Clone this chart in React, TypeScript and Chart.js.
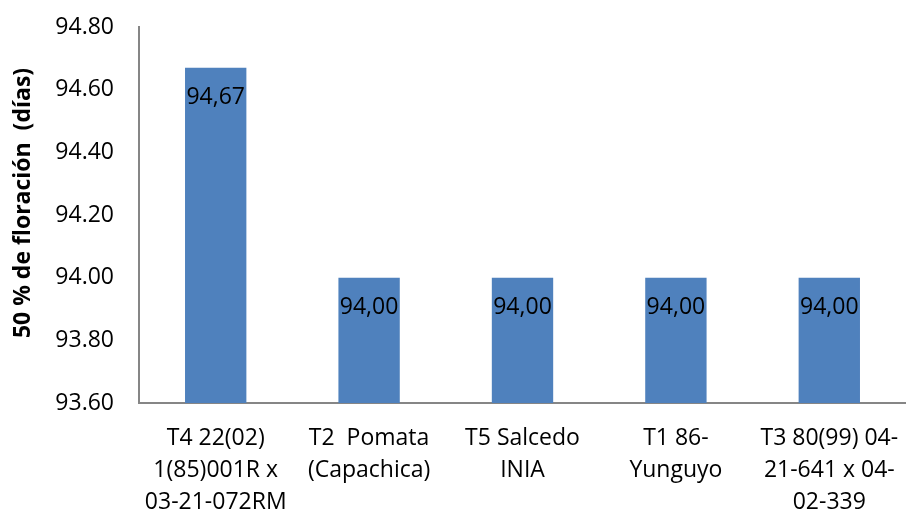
import React, { useEffect, useRef } from "react";
import { Chart, registerables } from "chart.js";

Chart.register(...registerables);

const categories: string[][] = [
  ["T4 22(02)", "1(85)001R x", "03-21-072RM"],
  ["T2  Pomata", "(Capachica)"],
  ["T5 Salcedo", "INIA"],
  ["T1 86-", "Yunguyo"],
  ["T3 80(99) 04-", "21-641 x 04-", "02-339"],
];
const values: number[] = [94.67, 94.0, 94.0, 94.0, 94.0];
const yTitle = "50 % de floración  (días)";
const yMin = 93.6;
const yMax = 94.8;
const yStep = 0.2;

const FONT = "'Open Sans', sans-serif";

const labelPlugin = {
  id: "barLabels",
  afterDatasetsDraw(chart: any) {
    const ctx = chart.ctx;
    const meta = chart.getDatasetMeta(0);
    ctx.save();
    ctx.font = `23px ${FONT}`;
    ctx.fillStyle = "#000000";
    ctx.textAlign = "center";
    ctx.textBaseline = "middle";
    meta.data.forEach((bar: any, i: number) => {
      const txt = values[i].toFixed(2).replace(".", ",");
      ctx.fillText(txt, bar.x, bar.y + 30);
    });
    ctx.restore();
  },
};

const titlePlugin = {
  id: "yTitle",
  afterDraw(chart: any) {
    const ctx = chart.ctx;
    ctx.save();
    ctx.translate(23, 203);
    ctx.rotate(-Math.PI / 2);
    ctx.font = `bold 23px ${FONT}`;
    ctx.fillStyle = "#000000";
    ctx.textAlign = "center";
    ctx.textBaseline = "middle";
    ctx.fillText(yTitle, 0, 0);
    ctx.restore();
  },
};

export default function App() {
  const ref = useRef<HTMLCanvasElement>(null);
  useEffect(() => {
    document.body.style.margin = "0";
    const chart = new Chart(ref.current!, {
      type: "bar",
      data: {
        labels: categories,
        datasets: [
          {
            data: values,
            backgroundColor: "#4F81BD",
            borderWidth: 0,
            categoryPercentage: 1,
            barPercentage: 0.4,
          },
        ],
      },
      options: {
        animation: false,
        responsive: false,
        maintainAspectRatio: false,
        layout: { padding: { top: 27, right: 0, left: 0, bottom: 0 } },
        plugins: { legend: { display: false }, tooltip: { enabled: false } },
        scales: {
          x: {
            grid: { display: false, drawTicks: false },
            border: { display: true, color: "#868686", width: 2 },
            ticks: {
              color: "#000000",
              font: { family: FONT, size: 23, lineHeight: "32px" as any },
              padding: 19,
              maxRotation: 0,
              autoSkip: false,
            },
            afterFit(scale: any) {
              scale.height = 110;
              scale.paddingLeft = 0;
              scale.paddingRight = 0;
            },
          },
          y: {
            min: yMin,
            max: yMax,
            grid: { display: false, drawTicks: false },
            border: { display: true, color: "#868686", width: 2 },
            ticks: {
              stepSize: yStep,
              color: "#000000",
              font: { family: FONT, size: 23 },
              padding: 25,
              callback: (v: any) => Number(v).toFixed(2),
            },
            title: { display: false, text: yTitle },
            afterFit(scale: any) {
              scale.width = 139;
              scale.paddingTop = 0;
              scale.paddingBottom = 0;
            },
          },
        },
      },
      plugins: [labelPlugin, titlePlugin],
    });
    return () => chart.destroy();
  }, []);
  return (
    <div style={{ width: 906, height: 513 }}>
      <canvas ref={ref} width={906} height={513} />
    </div>
  );
}
